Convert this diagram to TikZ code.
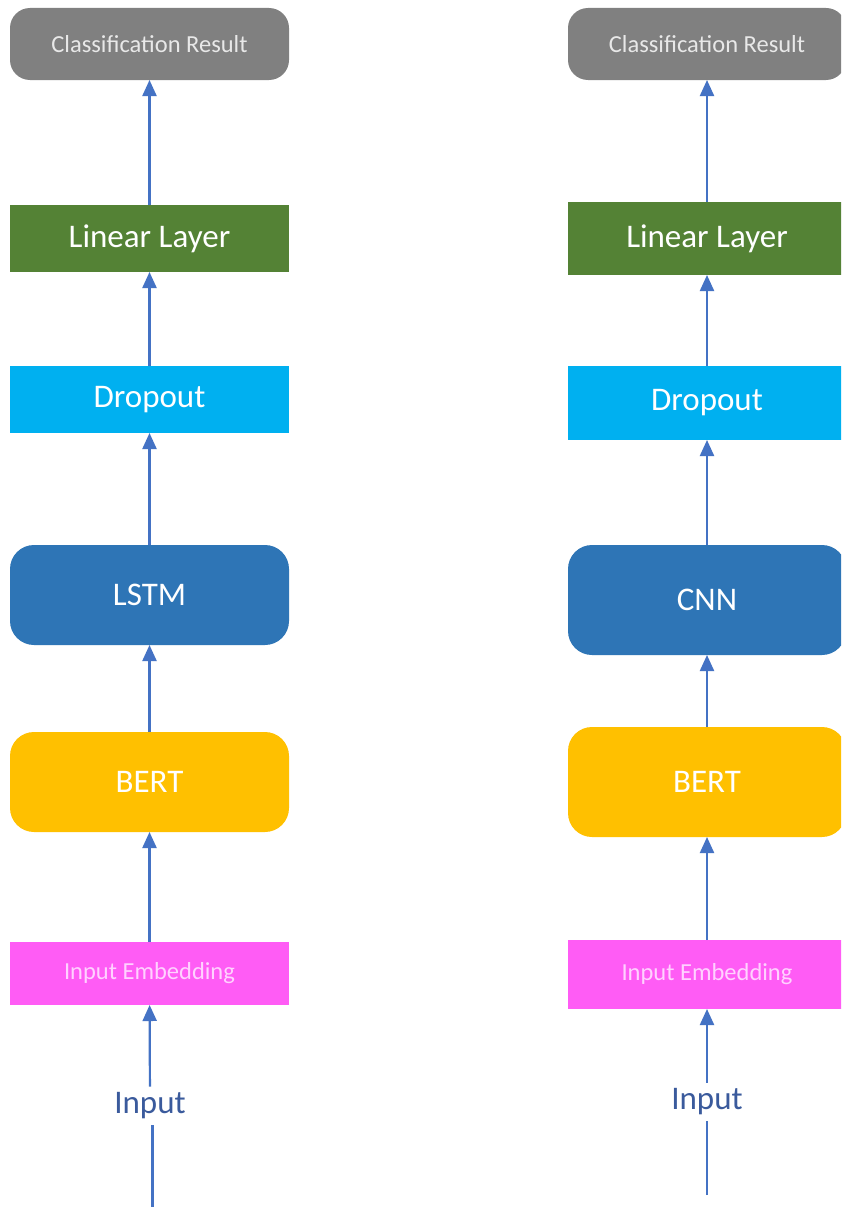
\documentclass[tikz,border=0pt]{standalone}
\usepackage{fontspec}
\setmainfont{Carlito}
\usetikzlibrary{arrows.meta}

\definecolor{resgray}{HTML}{808080}
\definecolor{resfont}{HTML}{E8E8E8}
\definecolor{lingreen}{HTML}{548235}
\definecolor{dropcyan}{HTML}{00B0F0}
\definecolor{netblue}{HTML}{2E75B6}
\definecolor{bertgold}{HTML}{FFC000}
\definecolor{embpink}{HTML}{FF5CF5}
\definecolor{embfont}{HTML}{FFD2FF}
\definecolor{arrowblue}{HTML}{4472C4}
\definecolor{inputblue}{HTML}{3A5A9C}

\tikzset{
  block/.style={inner sep=0pt, outer sep=0pt, text=white,
    font=\fontsize{33}{40}\selectfont},
  resbox/.style={block, fill=resgray, rounded corners=20pt, text=resfont,
    font=\fontsize{24.5}{30}\selectfont, minimum height=72pt},
  linbox/.style={block, fill=lingreen},
  dropbox/.style={block, fill=dropcyan},
  netbox/.style={block, fill=netblue, rounded corners=24pt},
  bertbox/.style={block, fill=bertgold, rounded corners=24pt},
  embbox/.style={block, fill=embpink, text=embfont,
    font=\fontsize{24.5}{30}\selectfont},
  intext/.style={inner sep=6pt, text=inputblue,
    font=\fontsize{33}{40}\selectfont},
  flow/.style={draw=arrowblue, line width=2.2pt,
    -{Triangle[width=14pt,length=16pt]}},
  feed/.style={draw=arrowblue, line width=2.2pt}
}

\begin{document}
\begin{tikzpicture}[x=1pt, y=-1pt]
\useasboundingbox (0,0) rectangle (841,1207);
\fill[white] (0,0) rectangle (841,1207);
\clip (0,0) rectangle (841,1207);

% BERT + LSTM pipeline
\node[resbox,  minimum width=279pt]                      (clsL)  at (149.5,44)    {Classification Result};
\node[linbox,  minimum width=279pt, minimum height=67pt] (linL)  at (149.5,238.5) {Linear Layer};
\node[dropbox, minimum width=279pt, minimum height=67pt] (dropL) at (149.5,399.5) {Dropout};
\node[netbox,  minimum width=279pt, minimum height=100pt](lstm)  at (149.5,595)   {LSTM};
\node[bertbox, minimum width=279pt, minimum height=100pt](bertL) at (149.5,782)   {BERT};
\node[embbox,  minimum width=279pt, minimum height=63pt] (embL)  at (149.5,973.5) {Input Embedding};
\node[intext] (inL) at (150,1106) {Input};
\coordinate (srcL) at (152.5,1210);

\draw[feed] (srcL) -- (inL.south -| srcL);
\draw[flow] (inL) -- (embL);
\draw[flow] (embL) -- (bertL);
\draw[flow] (bertL) -- (lstm);
\draw[flow] (lstm) -- (dropL);
\draw[flow] (dropL) -- (linL);
\draw[flow] (linL) -- (clsL);

% BERT + CNN pipeline
\node[resbox,  minimum width=278pt]                      (clsR)  at (707,44)    {Classification Result};
\node[linbox,  minimum width=278pt, minimum height=73pt] (linR)  at (707,238.5) {Linear Layer};
\node[dropbox, minimum width=278pt, minimum height=74pt] (dropR) at (707,403)   {Dropout};
\node[netbox,  minimum width=278pt, minimum height=110pt](cnn)   at (707,600)   {CNN};
\node[bertbox, minimum width=278pt, minimum height=110pt](bertR) at (707,782)   {BERT};
\node[embbox,  minimum width=278pt, minimum height=69pt] (embR)  at (707,974.5) {Input Embedding};
\node[intext] (inR) at (707,1102) {Input};
\coordinate (srcR) at (707,1195);

\draw[feed] (srcR) -- (inR);
\draw[flow] (inR) -- (embR);
\draw[flow] (embR) -- (bertR);
\draw[flow] (bertR) -- (cnn);
\draw[flow] (cnn) -- (dropR);
\draw[flow] (dropR) -- (linR);
\draw[flow] (linR) -- (clsR);
\end{tikzpicture}
\end{document}
